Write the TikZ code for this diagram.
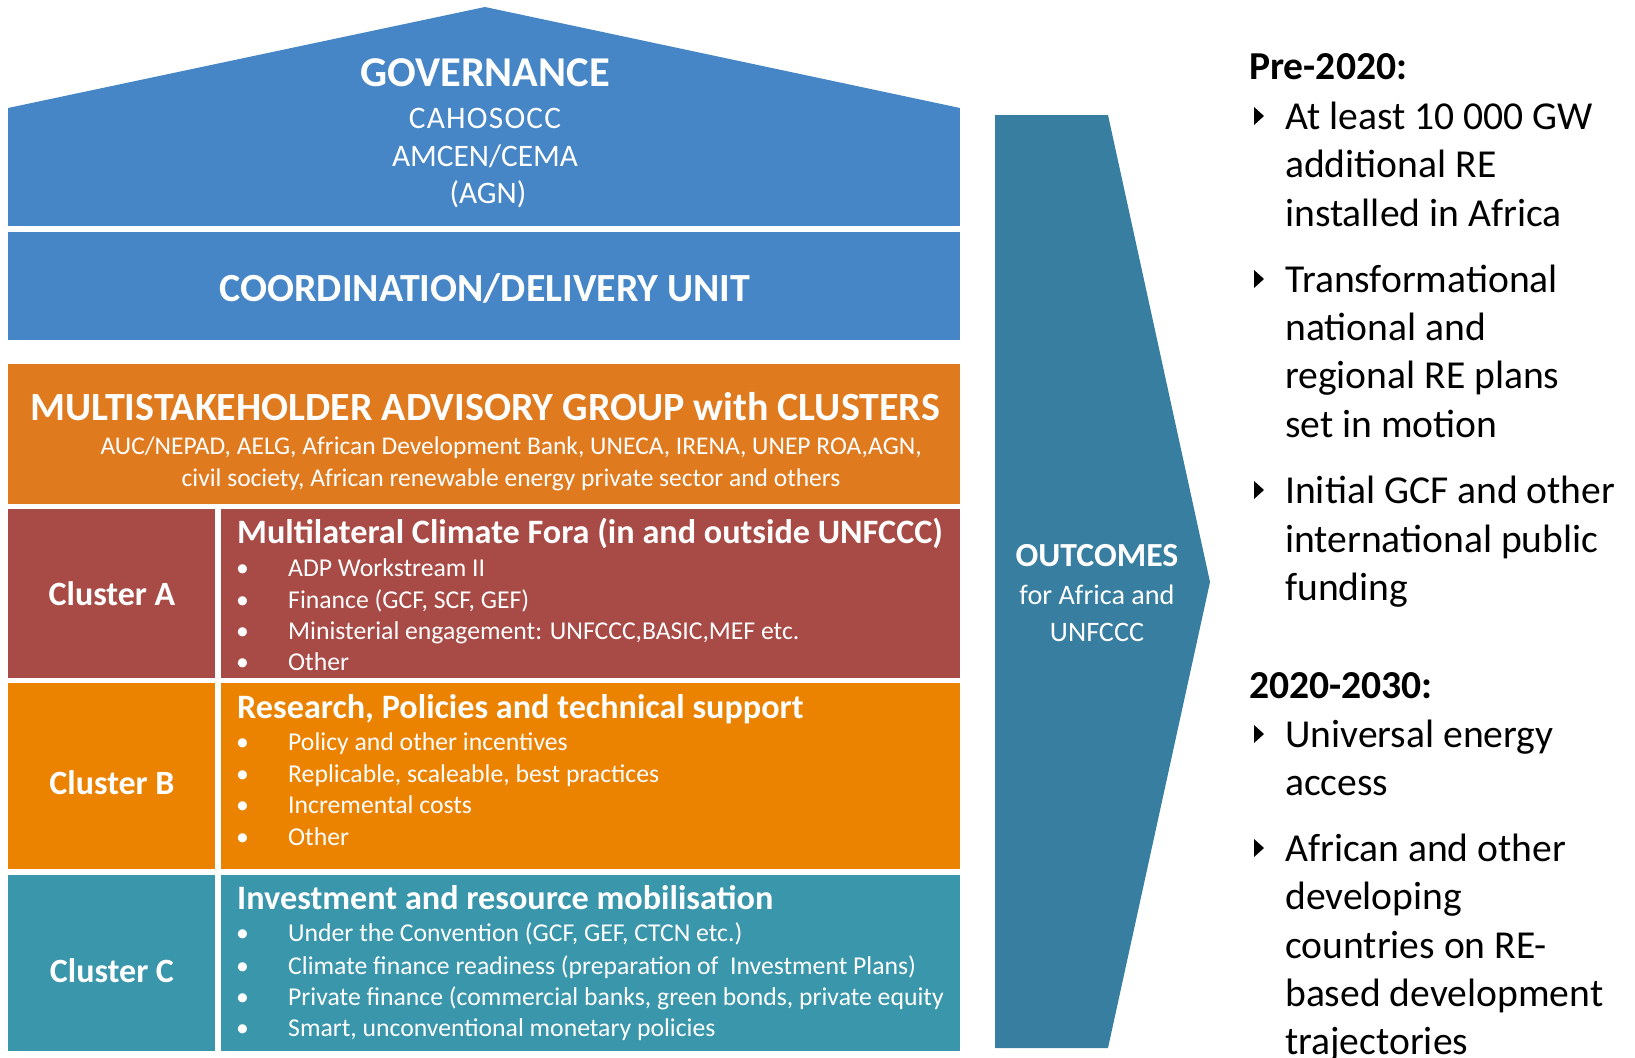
\documentclass[tikz,border=0pt]{standalone}
\usepackage{fontspec}
\setmainfont{Carlito}
\usetikzlibrary{calc,fit}
\definecolor{govblue}{RGB}{70,134,198}
\definecolor{msagorange}{RGB}{224,122,31}
\definecolor{clusterred}{RGB}{168,74,69}
\definecolor{clusterorange}{RGB}{235,130,0}
\definecolor{clusterteal}{RGB}{58,150,170}
\definecolor{outblue}{RGB}{55,126,160}
\newcommand{\fsz}[1]{\fontsize{#1}{#1}\selectfont}

\begin{document}
\begin{tikzpicture}[x=1pt,y=-1pt]
      \tikzstyle{box}=[rectangle,inner sep=0pt,outer sep=0pt]
      \tikzstyle{white text}=[text=white,inner sep=0pt,anchor=base]
      \tikzstyle{item text}=[text=white,inner sep=0pt,anchor=base west,font=\fsz{25.7}]
      \tikzstyle{dark text}=[text=black,inner sep=0pt,anchor=base west,font=\fsz{39.6}]
      \useasboundingbox (0,0) rectangle (1635,1057);
      % house: roof, governance, coordination
      \fill[govblue] (8,108) -- (485,7) -- (960,108) -- cycle;
      \node(gov)[box,fill=govblue,fit={(8,108) (960,226)}]{};
      \node(coord)[box,fill=govblue,fit={(8,232) (960,340)}]{};
      \node(govtitle)[white text,font=\bfseries\fsz{42.5}] at (485,86) {GOVERNANCE};
      \node(cahosocc)[white text,font=\fsz{31.3}] at (485,128) {\addfontfeature{LetterSpace=4}CAHOSOCC};
      \node(amcen)[white text,font=\fsz{31.3}] at (485,166) {AMCEN/CEMA};
      \node(agn)[white text,font=\fsz{31.3}] at (488,203) {(AGN)};
      \node(coordtitle)[white text,font=\bfseries\fsz{39.9}] at (485,301) {COORDINATION/DELIVERY UNIT};
      % advisory group
      \node(msag)[box,fill=msagorange,fit={(8,364) (960,504)}]{};
      \node(msagtitle)[white text,font=\bfseries\fsz{40}] at (485,420) {MULTISTAKEHOLDER ADVISORY GROUP with CLUSTERS};
      \node(msag1)[white text,font=\fsz{25.5}] at (511,454) {AUC/NEPAD, AELG, African Development Bank, UNECA, IRENA, UNEP ROA,AGN,};
      \node(msag2)[white text,font=\fsz{25.5}] at (511,486) {civil society, African renewable energy private sector and others};
      % clusters
      \foreach \name/\col/\top/\bot/\lab/\head/\title in {
          A/clusterred/509/678/605/543/{Multilateral Climate Fora (in and outside UNFCCC)},
          B/clusterorange/683/869/794/718/{Research, Policies and technical support},
          C/clusterteal/875/1051/982/909/{Investment and resource mobilisation}}{
        \node(lab\name)[box,fill=\col,fit={(8,\top) (215,\bot)}]{};
        \node(body\name)[box,fill=\col,fit={(221,\top) (960,\bot)}]{};
        \node(cl\name)[white text,font=\bfseries\fsz{34}] at (112,\lab) {Cluster \name};
        \node(head\name)[white text,anchor=base west,font=\bfseries\fsz{34.2}] at (237,\head) {\title};
      }
      \foreach \y/\t [count=\i] in {576/ADP Workstream II, {608/Finance (GCF, SCF, GEF)},
          639/Ministerial engagement: UNFCCC{,}BASIC{,}MEF etc., 670/Other}{
        \node(dotA\i)[item text] at (236,\y) {\textbullet};
        \node(itemA\i)[item text] at (288,\y) {\t};
      }
      \foreach \y/\t [count=\i] in {750/Policy and other incentives, {782/Replicable, scaleable, best practices},
          813/Incremental costs, 845/Other}{
        \node(dotB\i)[item text] at (236,\y) {\textbullet};
        \node(itemB\i)[item text] at (288,\y) {\t};
      }
      \foreach \y/\t [count=\i] in {{941/Under the Convention (GCF, GEF, CTCN etc.)},
          974/Climate finance readiness (preparation of\ \ Investment Plans),
          {1005/Private finance (commercial banks, green bonds, private equity},
          {1036/Smart, unconventional monetary policies}}{
        \node(dotC\i)[item text] at (236,\y) {\textbullet};
        \node(itemC\i)[item text] at (288,\y) {\t};
      }
      % outcomes arrow
      \fill[outblue] (995,115) -- (1108,115) -- (1210,582) -- (1108,1048) -- (995,1048) -- cycle;
      \node(outtitle)[white text,font=\bfseries\fsz{33.7}] at (1097,566) {OUTCOMES};
      \node(out1)[white text,font=\fsz{28.2}] at (1097,604) {for Africa and};
      \node(out2)[white text,font=\fsz{28.2}] at (1097,641) {UNFCCC};
      % outcome lists
      \node(pre)[dark text,font=\bfseries\fsz{39.6}] at (1249,80) {Pre-2020:};
      \node(post)[dark text,font=\bfseries\fsz{39.6}] at (1249,698) {2020-2030:};
      \foreach \y/\t [count=\i] in {129/At least 10 000 GW, 177/additional RE, 226/installed in Africa,
          292/Transformational, 340/national and, 388/regional RE plans, 437/set in motion,
          503/Initial GCF and other, 552/international public, 600/funding,
          747/Universal energy, 795/access,
          861/African and other, 909/developing, 958/countries on RE-, 1006/based development, 1054/trajectories}{
        \node(res\i)[dark text] at (1285,\y) {\t};
      }
      \foreach \y in {116,279,490,734,848}
        \fill (1254,\y-9) -- (1264,\y) -- (1254,\y+9) -- cycle;
\end{tikzpicture}
\end{document}
